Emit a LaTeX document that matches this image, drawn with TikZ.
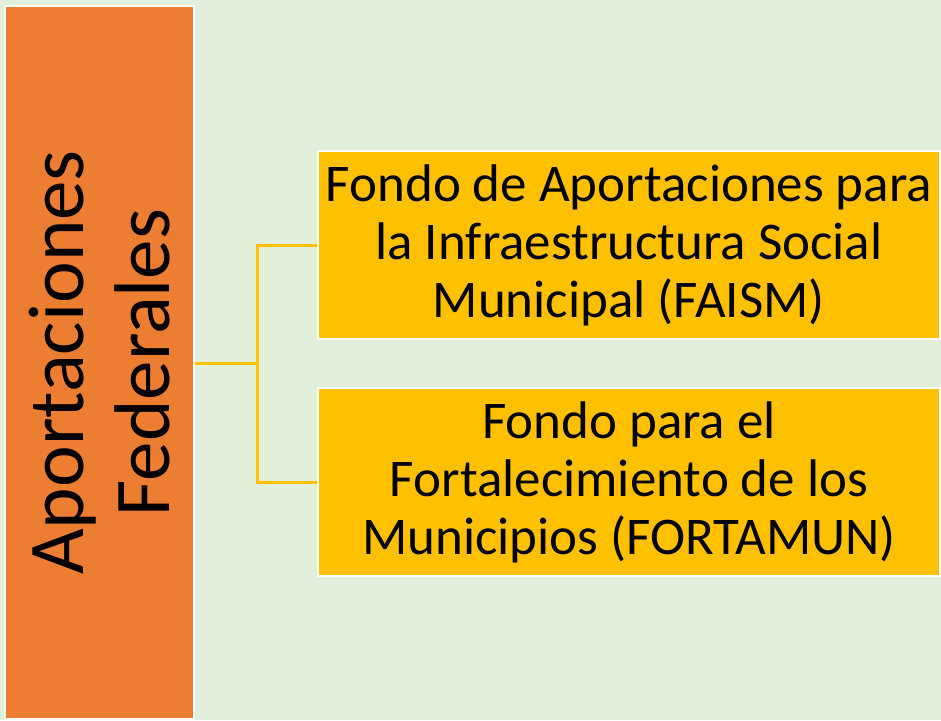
\documentclass[tikz,border=0pt]{standalone}
\usepackage{fontspec}
\setmainfont{Carlito}
\definecolor{fondo}{HTML}{E2EFDA}
\definecolor{naranja}{HTML}{ED7D31}
\definecolor{amarillo}{HTML}{FFC000}
\tikzset{
  caja/.style={draw=white, line width=2pt, fill=amarillo, minimum width=622pt, minimum height=188pt, inner sep=0pt, align=center, font=\fontsize{53}{58}\selectfont},
  linea/.style={amarillo, line width=3pt}
}
\begin{document}
\begin{tikzpicture}[x=1pt,y=-1pt]
  \fill[fondo] (0,0) rectangle (941,720);
  \useasboundingbox (0,0) rectangle (941,720);
  \node[draw=white, line width=2pt, fill=naranja, minimum width=189pt, minimum height=713pt, inner sep=0pt] (aport) at (99.5,362.5) {};
  \node[rotate=90, align=center, font=\fontsize{79}{86}\selectfont] (titulo) at (aport.center) {Aportaciones\\Federales};
  \node[caja] (faism) at (629,245) {Fondo de Aportaciones para\\la Infraestructura Social\\Municipal (FAISM)};
  \node[caja] (fortamun) at (629,482) {Fondo para el\\Fortalecimiento de los\\Municipios (FORTAMUN)};
  \coordinate (rama) at (257,363);
  \draw[linea] (aport.east |- rama) -- (rama);
  \draw[linea] (faism.west) -| (rama) |- (fortamun.west);
\end{tikzpicture}
\end{document}
